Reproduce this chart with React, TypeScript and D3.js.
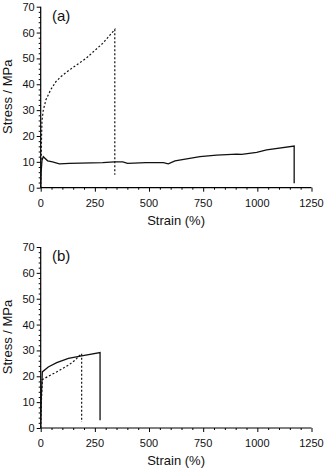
import React, { useEffect, useRef } from 'react';
import * as d3 from 'd3';

// panel (a)
const strainA_solid = [0, 2, 6, 12, 32, 55, 86, 132, 286, 340, 379, 401, 486, 566, 589, 620, 735, 812, 905, 928, 997, 1043, 1170, 1170];
const stressA_solid = [0, 6, 10.6, 12, 10.4, 10, 9.2, 9.4, 9.7, 10, 10, 9.4, 9.7, 9.7, 9.2, 10.4, 12, 12.6, 13, 12.9, 13.7, 14.6, 16.1, 1.7];
const strainA_dash = [0, 2, 4, 6, 12, 24, 47, 70, 94, 132, 209, 286, 342, 342];
const stressA_dash = [0, 10, 20, 26, 30, 34, 38, 41, 43, 45.5, 50, 55.8, 61.2, 5];

// panel (b)
const strainB_solid = [0, 3, 7.5, 35, 74, 128, 189, 274, 274];
const stressB_solid = [0, 12, 21.7, 23.6, 25.3, 26.9, 27.9, 29.2, 3];
const strainB_dash = [0, 3, 7.5, 35, 81, 128, 158, 189, 189];
const stressB_dash = [0, 10, 18.7, 20, 22, 24.3, 26.2, 28.8, 2.3];

const xTicks = [0, 250, 500, 750, 1000, 1250];
const yTicks = [0, 10, 20, 30, 40, 50, 60, 70];
const panelLabels = ['(a)', '(b)'];
const xTitle = 'Strain (%)';
const yTitle = 'Stress / MPa';

const zip = (xs: number[], ys: number[]) => xs.map((x, i) => [x, ys[i]] as [number, number]);

const panels = [
  { top: 6.7, label: panelLabels[0], solid: zip(strainA_solid, stressA_solid), dash: zip(strainA_dash, stressA_dash) },
  { top: 247, label: panelLabels[1], solid: zip(strainB_solid, stressB_solid), dash: zip(strainB_dash, stressB_dash) },
];

export default function App() {
  const ref = useRef<SVGSVGElement>(null);

  useEffect(() => {
    const svg = d3.select(ref.current);
    svg.selectAll('*').remove();
    const left = 40.7, right = 311.5, plotH = 181;
    const font = 'Arial, "Liberation Sans", sans-serif';

    panels.forEach((p) => {
      const x = d3.scaleLinear().domain([0, 1250]).range([left, right]);
      const y = d3.scaleLinear().domain([0, 70]).range([p.top + plotH, p.top]);
      const g = svg.append('g');

      // x axis with minor ticks every 50
      const xAxis = g.append('g').attr('transform', `translate(0,${y(0)})`);
      xAxis.call(d3.axisBottom(x).tickValues(d3.range(0, 1251, 50)).tickSize(2).tickFormat(() => ''));
      xAxis.call((s) => s.selectAll('.tick line').attr('stroke-width', 1));
      xAxis.selectAll('.tick')
        .filter((d: any) => xTicks.includes(d))
        .select('line').attr('y2', 4);
      xAxis.select('.domain').attr('d', `M${left},0H${right}`).attr('stroke-width', 1.2);
      xAxis.selectAll('.tick text').remove();
      xTicks.forEach((t) => {
        g.append('text')
          .attr('x', x(t)).attr('y', y(0) + 19)
          .attr('text-anchor', 'middle')
          .style('font-family', font).style('font-size', '11px').attr('fill', '#111')
          .text(t);
      });

      // y axis with minor ticks every 2
      const yAxis = g.append('g').attr('transform', `translate(${left},0)`);
      yAxis.call(d3.axisLeft(y).tickValues(d3.range(0, 71, 2)).tickSize(2).tickFormat(() => ''));
      yAxis.selectAll('.tick')
        .filter((d: any) => yTicks.includes(d))
        .select('line').attr('x2', -4);
      yAxis.select('.domain').attr('d', `M0,${y(0)}V${y(70)}`).attr('stroke-width', 1.2);
      yAxis.selectAll('.tick text').remove();
      yTicks.forEach((t) => {
        g.append('text')
          .attr('x', left - 6).attr('y', y(t) + 4)
          .attr('text-anchor', 'end')
          .style('font-family', font).style('font-size', '11px').attr('fill', '#111')
          .text(t);
      });

      g.append('text')
        .attr('x', (left + right) / 2).attr('y', y(0) + 37)
        .attr('text-anchor', 'middle')
        .style('font-family', font).style('font-size', '13px').attr('fill', '#111')
        .text(xTitle);

      g.append('text')
        .attr('transform', `translate(12,${p.top + 90}) rotate(-90)`)
        .attr('text-anchor', 'middle')
        .style('font-family', font).style('font-size', '13px').attr('fill', '#111')
        .text(yTitle);

      g.append('text')
        .attr('x', 52).attr('y', p.top + 14)
        .style('font-family', font).style('font-size', '15px').attr('fill', '#111')
        .text(p.label);

      const line = d3.line<[number, number]>().x((d) => x(d[0])).y((d) => y(d[1]));
      g.append('path').attr('d', line(p.solid)).attr('fill', 'none').attr('stroke', '#111').attr('stroke-width', 1.3);
      g.append('path').attr('d', line(p.dash)).attr('fill', 'none').attr('stroke', '#111')
        .attr('stroke-width', 1.2).attr('stroke-dasharray', '2,2');
    });
  }, []);

  return (
    <svg ref={ref} width={325} height={471} style={{ position: 'absolute', left: 0, top: 0, background: '#fff' }} />
  );
}
